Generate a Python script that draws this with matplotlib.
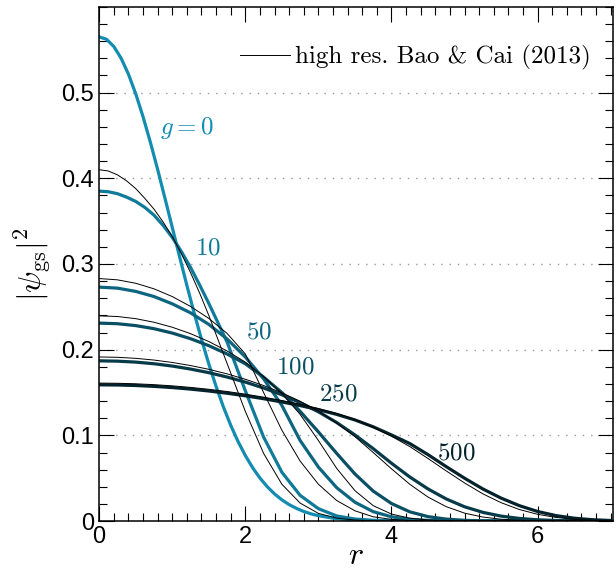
import matplotlib.pyplot as plt
from matplotlib.ticker import MultipleLocator

plt.rcParams['mathtext.fontset'] = 'cm'
plt.rcParams['font.family'] = ['Liberation Sans', 'DejaVu Sans']

# fine radial grid for the g = 0 curve
r_fine = [0.0, 0.1, 0.2, 0.3, 0.4, 0.5, 0.6, 0.7, 0.8, 0.9, 1.0, 1.1, 1.2, 1.3,
          1.4, 1.5, 1.6, 1.7, 1.8, 1.9, 2.0, 2.1, 2.2, 2.3, 2.4, 2.5, 2.6, 2.7,
          2.8, 2.9, 3.0, 3.2, 3.4, 3.6, 3.8, 4.0, 5.0, 7.0]
dens_g0 = [0.5650, 0.5622, 0.5538, 0.5401, 0.5216, 0.4986, 0.4719, 0.4422, 0.4103,
           0.3768, 0.3427, 0.3085, 0.2750, 0.2427, 0.2121, 0.1834, 0.1571, 0.1332,
           0.1118, 0.0929, 0.0765, 0.0623, 0.0502, 0.0401, 0.0317, 0.0248, 0.0192,
           0.0148, 0.0112, 0.0084, 0.0063, 0.0034, 0.0017, 0.0009, 0.0004, 0.0002,
           0.0, 0.0]

# grid for g = 10 (finer near the top)
r_g10 = [0.0, 0.125, 0.25, 0.375, 0.5, 0.625, 0.75, 0.875, 1.0, 1.125, 1.25,
         1.375, 1.5, 1.75, 2.0, 2.25, 2.5, 2.75, 3.0, 3.25, 3.5, 3.75, 4.0, 5.0, 7.0]
dens_g10 = [0.385, 0.3843, 0.382, 0.378, 0.373, 0.366, 0.357, 0.345, 0.331, 0.3145,
            0.296, 0.2755, 0.254, 0.209, 0.152, 0.098, 0.057, 0.030, 0.0145, 0.006,
            0.0024, 0.0009, 0.0003, 0, 0]
ref_g10 = [0.410, 0.4085, 0.404, 0.397, 0.388, 0.3765, 0.364, 0.349, 0.332, 0.312,
           0.290, 0.266, 0.240, 0.184, 0.128, 0.079, 0.043, 0.021, 0.009, 0.0035,
           0.0012, 0.0004, 0, 0, 0]

# radial grid (step 0.25) for the other curves
r = [0.0, 0.25, 0.5, 0.75, 1.0, 1.25, 1.5, 1.75, 2.0, 2.25, 2.5, 2.75, 3.0,
     3.25, 3.5, 3.75, 4.0, 4.25, 4.5, 4.75, 5.0, 5.25, 5.5, 5.75, 6.0,
     6.25, 6.5, 6.75, 7.0]

g_values = [0, 10, 50, 100, 250, 500]
labels = ['$g=0$', '$10$', '$50$', '$100$', '$250$', '$500$']

# thick curves
dens_g50 = [0.273, 0.2718, 0.268, 0.262, 0.2535, 0.243, 0.2295, 0.2125, 0.1915,
            0.166, 0.135, 0.094, 0.063, 0.039, 0.022, 0.011, 0.005, 0.002, 0.0008,
            0.0003, 0, 0, 0, 0, 0, 0, 0, 0, 0]
dens_g100 = [0.231, 0.2303, 0.2281, 0.2245, 0.2194, 0.2128, 0.2047, 0.1950, 0.1835,
             0.1680, 0.1500, 0.1280, 0.1040, 0.0790, 0.0550, 0.0350, 0.0205, 0.0108,
             0.0052, 0.0023, 0.0009, 0.0003, 0, 0, 0, 0, 0, 0, 0]
dens_g250 = [0.187, 0.1866, 0.1855, 0.1836, 0.1809, 0.1774, 0.1732, 0.1681, 0.1622,
             0.1553, 0.1474, 0.1382, 0.1275, 0.1150, 0.1005, 0.0845, 0.0675, 0.0515,
             0.0375, 0.0258, 0.0167, 0.0102, 0.0058, 0.0031, 0.0015, 0.0007, 0.0003,
             0.0001, 0.0]
dens_g500 = [0.159, 0.1588, 0.1582, 0.1572, 0.1558, 0.1540, 0.1518, 0.1492, 0.1462,
             0.1428, 0.1390, 0.1348, 0.1300, 0.1245, 0.1180, 0.1100, 0.1005, 0.0905,
             0.0775, 0.0635, 0.0500, 0.0375, 0.0268, 0.0180, 0.0112, 0.0064, 0.0034,
             0.0016, 0.0007]

# high resolution reference (thin black)
ref_g50 = [0.283, 0.2815, 0.2775, 0.271, 0.262, 0.2505, 0.2365, 0.219, 0.195, 0.150,
           0.106, 0.070, 0.043, 0.024, 0.012, 0.005, 0.002, 0.0007, 0.0002,
           0, 0, 0, 0, 0, 0, 0, 0, 0, 0]
ref_g100 = [0.2395, 0.2387, 0.2362, 0.2320, 0.2262, 0.2187, 0.2095, 0.1985, 0.1855,
            0.1685, 0.1490, 0.1245, 0.0940, 0.0615, 0.0355, 0.0180, 0.0082, 0.0034,
            0.0013, 0.0004, 0, 0, 0, 0, 0, 0, 0, 0, 0]
ref_g250 = [0.1915, 0.1911, 0.1899, 0.1879, 0.1851, 0.1815, 0.1771, 0.1718, 0.1655,
            0.1582, 0.1497, 0.1398, 0.1282, 0.1145, 0.0985, 0.0800, 0.0610, 0.0430,
            0.0280, 0.0168, 0.0093, 0.0047, 0.0022, 0.0009, 0.0004, 0.0001, 0,
            0, 0]
ref_g500 = [0.161, 0.1608, 0.1602, 0.1592, 0.1578, 0.1560, 0.1538, 0.1512, 0.1481,
            0.1446, 0.1407, 0.1363, 0.1313, 0.1256, 0.1185, 0.1095, 0.0990, 0.0870,
            0.0730, 0.0585, 0.0445, 0.0318, 0.0215, 0.0135, 0.0079, 0.0043, 0.0021,
            0.0009, 0.0004]

thick = [dens_g50, dens_g100, dens_g250, dens_g500]
thin = [ref_g50, ref_g100, ref_g250, ref_g500]
colors = ['#128cb0', '#0f7a99', '#0d6580', '#0a5064', '#073a48', '#03222b']
label_pos = [(1.20, 0.459), (1.49, 0.319), (2.19, 0.221), (2.68, 0.180),
             (3.27, 0.149), (4.88, 0.080)]

fig = plt.figure(figsize=(6.16, 5.72), dpi=100)
ax = fig.add_axes([0.161, 0.089, 0.834, 0.899])

ax.plot(r_fine, dens_g0, color=colors[0], lw=2.3, zorder=2)
ax.plot(r_g10, dens_g10, color=colors[1], lw=2.3, zorder=2)
for i in range(len(thick)):
    ax.plot(r, thick[i], color=colors[i + 2], lw=2.3, zorder=2)
ax.plot(r_g10, ref_g10, color='black', lw=0.7, zorder=3,
        label='high res. Bao & Cai (2013)')
for i in range(len(thin)):
    ax.plot(r, thin[i], color='black', lw=0.7, zorder=3)

for i in range(len(g_values)):
    ax.text(label_pos[i][0], label_pos[i][1], labels[i], color=colors[i],
            fontsize=18, ha='center', va='center')

for yv in [0.1, 0.2, 0.3, 0.4, 0.5]:
    ax.axhline(yv, color='#999999', lw=1.0, ls=(0, (1, 5)), zorder=1)

ax.set_xlim(0, 7.03)
ax.set_ylim(0, 0.6)
ax.set_yticks([0, 0.1, 0.2, 0.3, 0.4, 0.5])
ax.set_yticklabels(['0', '0.1', '0.2', '0.3', '0.4', '0.5'])
ax.set_xticks([0, 2, 4, 6])
ax.xaxis.set_minor_locator(MultipleLocator(0.2))
ax.yaxis.set_minor_locator(MultipleLocator(0.02))
ax.tick_params(which='both', direction='in', top=True, right=True, labelsize=17)
ax.tick_params(which='major', length=10.5, width=0.8)
ax.tick_params(which='minor', length=5.5, width=0.8)
for s in ax.spines.values():
    s.set_linewidth(1.1)

ax.set_xlabel('$r$', fontsize=23, labelpad=-5)
ax.set_ylabel(r'$|\psi_{\rm gs}|^2$', fontsize=23, labelpad=6)

ax.legend(loc='upper right', bbox_to_anchor=(1.0, 0.97), frameon=False,
          handlelength=2.0, handletextpad=0.2, borderaxespad=0.5,
          prop={'family': 'cmr10', 'size': 18})

fig.savefig('out.png', dpi=100)
